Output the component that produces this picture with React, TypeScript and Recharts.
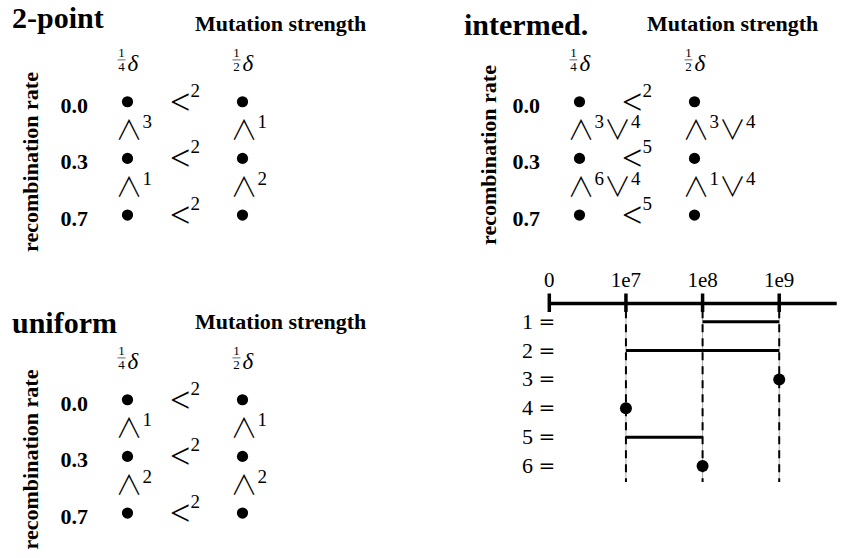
import { ScatterChart, Scatter, XAxis, YAxis, ReferenceLine } from "recharts";

// rows and columns of the three comparison grids
const recombinationRates = ["0.0", "0.3", "0.7"];
const mutationStrengths = [
  { num: "1", den: "4" },
  { num: "1", den: "2" },
];

// superscript of "<" between 1/4δ and 1/2δ, one per recombination rate
const twoPointRowRel = ["2", "2", "2"];
const intermedRowRel = ["2", "5", "5"];
const uniformRowRel = ["2", "2", "2"];

// relations down each column: [0.0 vs 0.3, 0.3 vs 0.7]
const twoPointColRel = [
  ["∧3", "∧1"],
  ["∧1", "∧2"],
];
const intermedColRel = [
  ["∧3∨4", "∧6∨4"],
  ["∧3∨4", "∧1∨4"],
];
const uniformColRel = [
  ["∧1", "∧2"],
  ["∧1", "∧2"],
];

// key: which generation range each superscript number stands for
const scaleTicks = ["0", "1e7", "1e8", "1e9"];
const rangeIds = [1, 2, 3, 4, 5, 6];
const rangeFrom = [2, 1, 3, 1, 1, 2];
const rangeTo = [3, 3, 3, 1, 2, 2];

const TEXT = "'Liberation Serif', 'Times New Roman', serif";
const SYM = "'Noto Sans CJK JP', 'DejaVu Serif', serif";
const EQ = "'DejaVu Serif', serif";

const Dot = (p: any) => <circle cx={p.cx} cy={p.cy} r={5.6} fill="#000" />;

const LessShape = (p: any) => (
  <text x={p.cx} y={p.cy + 12} textAnchor="middle" fontFamily={TEXT} fontSize={19} fill="#000">
    <tspan fontSize={36}>{"<"}</tspan>
    <tspan dy={-17}>{p.payload.sup}</tspan>
  </text>
);

const ColShape = (p: any) => {
  const parts = [...String(p.payload.rel).matchAll(/([∧∨])(\d)/g)];
  return (
    <text x={p.cx - 12} y={p.cy + 10} fontFamily={TEXT} fontSize={19} fill="#000">
      {parts.map((m, i) => [
        <tspan key={`s${i}`} dy={i === 0 ? 0 : 12} fontFamily={SYM} fontSize={27} fontWeight={300}>
          {m[1]}
        </tspan>,
        <tspan key={`e${i}`} dy={-12}>{m[2]}</tspan>,
      ])}
    </text>
  );
};

const StrengthTick = ({ x, y, payload }: any) => {
  const s = mutationStrengths[payload.value];
  if (!s) return null;
  return (
    <g fontFamily={TEXT} fill="#000">
      <text x={x - 6} y={y - 16} textAnchor="middle" fontSize={13}>{s.num}</text>
      <line x1={x - 10} x2={x - 2} y1={y - 13.5} y2={y - 13.5} stroke="#000" strokeWidth={0.6} />
      <text x={x - 6} y={y - 2} textAnchor="middle" fontSize={13}>{s.den}</text>
      <text x={x} y={y - 2} fontSize={23} fontStyle="italic">δ</text>
    </g>
  );
};

const RateTick = ({ x, y, payload }: any) => (
  <text x={x + 18} y={y + 11} textAnchor="end" fontWeight="bold" fontSize={22} fontFamily={TEXT} fill="#000">
    {recombinationRates[payload.value]}
  </text>
);

const ScaleTick = ({ x, y, payload }: any) => (
  <g>
    <line x1={x} x2={x} y1={y - 10} y2={y + 8.5} stroke="#000" strokeWidth={3.5} />
    <text x={x} y={y - 16.5} textAnchor="middle" fontSize={21} fontFamily={TEXT} fill="#000">
      {scaleTicks[payload.value]}
    </text>
  </g>
);

const RangeTick = ({ x, y, payload }: any) => (
  <text x={x + 6} y={y + 7} textAnchor="end" fontSize={22} fontFamily={TEXT} fill="#000">
    <tspan>{`${payload.value} `}</tspan>
    <tspan fontFamily={EQ} fontSize={20}>=</tspan>
  </text>
);

interface PanelProps {
  left: number;
  top: number;
  title: string;
  titleY: number;
  labelX: number;
  labelY: number;
  rowRel: string[];
  colRel: string[][];
}

const Panel: React.FC<PanelProps> = ({ left, top, title, titleY, labelX, labelY, rowRel, colRel }) => {
  const cells = recombinationRates.flatMap((_, r) => mutationStrengths.map((_, c) => ({ x: c, y: r })));
  const rowData = rowRel.map((sup, r) => ({ x: 0.5, y: r, sup }));
  const colData = colRel.flatMap((gaps, c) => gaps.map((rel, g) => ({ x: c, y: g + 0.5, rel })));

  // panel title, axis captions
  const captions = () => (
    <g fontFamily={TEXT} fontWeight="bold" fill="#000">
      <text x={12} y={titleY} fontSize={30}>{title}</text>
      <text x={195} y={31} fontSize={22}>Mutation strength</text>
      <text x={labelX} y={labelY} fontSize={22} textAnchor="middle" transform={`rotate(-90 ${labelX} ${labelY})`}>
        recombination rate
      </text>
    </g>
  );

  return (
    <div style={{ position: "absolute", left, top }}>
      <ScatterChart width={420} height={280} margin={{ top: 33.4, left: 20, right: 120, bottom: 36.6 }}>
        <XAxis
          type="number"
          dataKey="x"
          orientation="top"
          domain={[-0.5, 1.5]}
          ticks={[0, 1]}
          height={40}
          tickSize={0}
          tickMargin={0}
          tickLine={false}
          axisLine={false}
          tick={<StrengthTick />}
        />
        <YAxis
          type="number"
          dataKey="y"
          domain={[-0.5, 2.5]}
          ticks={[0, 1, 2]}
          reversed
          width={50}
          tickSize={0}
          tickMargin={0}
          tickLine={false}
          axisLine={false}
          tick={<RateTick />}
          label={{ value: title, content: captions }}
        />
        <Scatter data={cells} shape={Dot} isAnimationActive={false} />
        <Scatter data={rowData} shape={LessShape} isAnimationActive={false} />
        <Scatter data={colData} shape={ColShape} isAnimationActive={false} />
      </ScatterChart>
    </div>
  );
};

const ScaleKey = () => {
  const marks = scaleTicks.map((_, i) => i).slice(1);
  return (
    <div style={{ position: "absolute", left: 480, top: 250 }}>
      <ScatterChart width={362} height={250} margin={{ top: 23.5, left: 9.3, right: 5.3, bottom: 18 }}>
        <XAxis
          type="number"
          dataKey="x"
          orientation="top"
          domain={[0, 3.75]}
          ticks={[0, 1, 2, 3]}
          height={30}
          tickSize={0}
          tickMargin={0}
          tickLine={false}
          axisLine={{ stroke: "#000", strokeWidth: 3.5 }}
          tick={<ScaleTick />}
        />
        <YAxis
          type="number"
          dataKey="y"
          domain={[0.37, 6.55]}
          ticks={rangeIds}
          reversed
          width={60}
          tickSize={0}
          tickMargin={0}
          tickLine={false}
          axisLine={false}
          tick={<RangeTick />}
        />
        {marks.map((m) => (
          <ReferenceLine key={`g${m}`} segment={[{ x: m, y: 0.6 }, { x: m, y: 6.55 }]} stroke="#aaa" strokeWidth={1} />
        ))}
        {marks.map((m) => (
          <ReferenceLine key={`d${m}`} segment={[{ x: m, y: 0.6 }, { x: m, y: 6.55 }]} stroke="#000" strokeWidth={2} strokeDasharray="8 6" />
        ))}
        {rangeIds.map((id, i) =>
          rangeFrom[i] === rangeTo[i] ? (
            <Scatter key={id} data={[{ x: rangeFrom[i], y: id }]} shape={(p: any) => <circle cx={p.cx} cy={p.cy} r={6} fill="#000" />} isAnimationActive={false} />
          ) : (
            <Scatter
              key={id}
              data={[{ x: rangeFrom[i], y: id }, { x: rangeTo[i], y: id }]}
              fill="#000"
              line={{ stroke: "#000", strokeWidth: 3 }}
              shape={() => <g />}
              isAnimationActive={false}
            />
          )
        )}
      </ScatterChart>
    </div>
  );
};

export default function App() {
  return (
    <div style={{ position: "absolute", left: 0, top: 0, width: 842, height: 558, overflow: "hidden", background: "#fff" }}>
      <Panel left={0} top={0} title="2-point" titleY={28} labelX={38} labelY={162} rowRel={twoPointRowRel} colRel={twoPointColRel} />
      <Panel left={451.5} top={0} title="intermed." titleY={34.5} labelX={43.5} labelY={155} rowRel={intermedRowRel} colRel={intermedColRel} />
      <Panel left={0} top={297.5} title="uniform" titleY={34.5} labelX={38} labelY={161.5} rowRel={uniformRowRel} colRel={uniformColRel} />
      <ScaleKey />
    </div>
  );
}
